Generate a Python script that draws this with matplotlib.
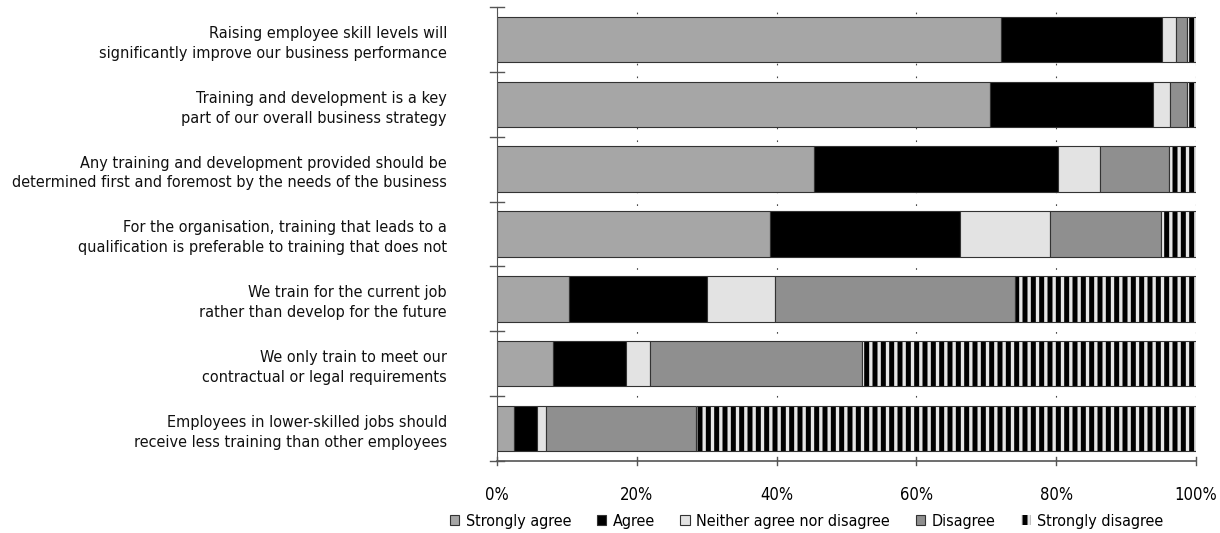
import numpy as np
import matplotlib.pyplot as plt
from matplotlib.patches import Patch

plt.rcParams['font.family'] = ['DejaVu Sans']
plt.rcParams['font.stretch'] = 'condensed'
plt.rcParams['hatch.linewidth'] = 2.4

statements = [
    "Raising employee skill levels will\nsignificantly improve our business performance",
    "Training and development is a key\npart of our overall business strategy",
    "Any training and development provided should be\ndetermined first and foremost by the needs of the business",
    "For the organisation, training that leads to a\nqualification is preferable to training that does not",
    "We train for the current job\nrather than develop for the future",
    "We only train to meet our\ncontractual or legal requirements",
    "Employees in lower-skilled jobs should\nreceive less training than other employees",
]
responses = ["Strongly agree", "Agree", "Neither agree nor disagree", "Disagree", "Strongly disagree"]

strongly_agree = [72.1, 70.6, 45.3, 39.1, 10.3, 8.0, 2.4]
agree = [23.0, 23.2, 35.0, 27.2, 19.8, 10.4, 3.3]
neither = [2.1, 2.5, 5.9, 12.8, 9.6, 3.5, 1.3]
disagree = [1.5, 2.4, 10.0, 15.9, 34.4, 30.3, 21.4]
strongly_disagree = [1.3, 1.3, 3.8, 5.0, 25.9, 47.8, 71.6]

colors = ["#a6a6a6", "#000000", "#e3e3e3", "#8f8f8f", "#000000"]
stripe = "#e6e6e6"

fig = plt.figure(figsize=(12.2, 5.33), dpi=100)
ax = fig.add_axes([0.4074, 0.135, 0.5729, 0.852])

y = np.arange(len(statements))
series = [strongly_agree, agree, neither, disagree, strongly_disagree]
left = np.zeros(len(statements))
for i, vals in enumerate(series):
    vals = np.array(vals)
    if i == 4:
        # black bars with light vertical stripes
        ax.barh(y, vals, left=left, height=0.7, color="black", edgecolor=stripe,
                hatch="||", linewidth=0, zorder=2)
        ax.barh(y, vals, left=left, height=0.7, color="none", edgecolor="#333333",
                linewidth=0.8, zorder=3)
    else:
        ax.barh(y, vals, left=left, height=0.7, color=colors[i], edgecolor="#333333",
                linewidth=0.8, zorder=2)
    left += vals

ax.set_xlim(0, 100)
ax.set_ylim(len(statements) - 0.5, -0.5)
ax.set_xticks(np.arange(0, 101, 20))
ax.set_xticklabels([f"{v}%" for v in range(0, 101, 20)], fontsize=12)
ax.set_yticks(y)
ax.set_yticklabels(statements, fontsize=11.6, linespacing=1.4, color="#111111")
ax.tick_params(axis='y', length=0, pad=36)
ax.tick_params(axis='x', length=0, pad=18)

# category boundary ticks crossing the left axis, 20% ticks crossing the bottom
for b in np.arange(-0.5, len(statements), 1.0):
    ax.plot([-1.0, 1.0], [b, b], color="#555555", lw=1, clip_on=False, zorder=4)
for v in range(0, 101, 20):
    ax.plot([v, v], [len(statements) - 0.5 - 0.06, len(statements) - 0.5 + 0.06],
            color="#555555", lw=1, clip_on=False, zorder=4)

ax.grid(axis='x', color="#444444", linestyle=(0, (1.5, 10)), linewidth=0.8, zorder=0)
for s in ['top', 'right']:
    ax.spines[s].set_visible(False)
ax.spines['left'].set_color("#555555")
ax.spines['bottom'].set_color("#555555")
ax.spines['bottom'].set_linewidth(1.2)

handles = [Patch(facecolor=c, edgecolor="#333333", linewidth=0.8) for c in colors[:4]]
handles.append(Patch(facecolor="black", edgecolor=stripe, hatch="||", linewidth=0))
fig.legend(handles, responses, loc='center', bbox_to_anchor=(0.661, 0.0225), ncol=5,
           frameon=False, fontsize=11.5, handlelength=0.6, handleheight=0.6,
           handletextpad=0.4, columnspacing=1.6)

plt.savefig("out.png", dpi=100)
